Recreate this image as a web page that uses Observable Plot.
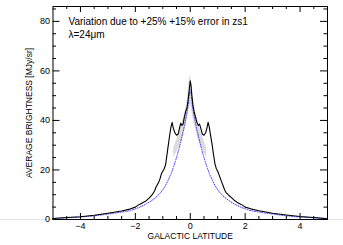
<!DOCTYPE html>
<html><head><meta charset="utf-8">
<script src="https://cdn.jsdelivr.net/npm/d3@7"></script>
<script src="https://cdn.jsdelivr.net/npm/@observablehq/plot@0.6"></script>
<style>body{margin:0;background:#fff}</style>
</head><body><div id="chart"></div>
<script>
const obsLat = [-5,-4.5,-4,-3.5,-3,-2.5,-2.2,-2,-1.9,-1.8,-1.7,-1.6,-1.5,-1.4,-1.3,-1.25,-1.2,-1.15,-1.1,-1.05,-1.0,-0.95,-0.9,-0.85,-0.8,-0.75,-0.7,-0.66,-0.62,-0.56,-0.5,-0.44,-0.39,-0.35,-0.3,-0.26,-0.22,-0.17,-0.12,-0.08,-0.04,0,0.03,0.06,0.1,0.15,0.2,0.25,0.3,0.34,0.38,0.44,0.5,0.56,0.61,0.65,0.69,0.74,0.8,0.85,0.9,0.95,1.0,1.05,1.1,1.15,1.2,1.25,1.3,1.4,1.5,1.6,1.7,1.8,1.9,2.0,2.2,2.5,3,3.5,4,4.5,5];
const obsVal = [0.4,0.8,1.1,1.7,2.5,3.4,4.2,5.0,5.8,6.4,7.0,7.6,8.6,9.8,11.5,13,14,15,16.5,18.5,19.5,20.5,22,26,30,34,37.5,39.2,37,35,34,34.5,37,38.8,38,38.5,41,43.5,45,48,52,56,54,50,46,43,41,39,38,38.5,37,34.5,34,35,37,39.2,37.5,34,30,26,22.5,20.5,19.5,18,16.5,15,13.5,12,11,9.8,8.8,7.8,7.0,6.4,5.8,5.0,4.3,3.5,2.5,1.8,1.2,0.8,0.3];
const modLat = [-5,-4.5,-4,-3.5,-3,-2.5,-2.2,-2,-1.8,-1.6,-1.4,-1.2,-1.0,-0.9,-0.8,-0.7,-0.6,-0.5,-0.4,-0.3,-0.2,-0.1,0,0.1,0.2,0.3,0.4,0.5,0.6,0.7,0.8,0.9,1.0,1.2,1.4,1.6,1.8,2,2.2,2.5,3,3.5,4,4.5,5];
const modVal = [0.4,0.7,1.0,1.5,2.2,3.0,3.6,4.3,5.2,6.3,7.7,9.5,12,13.8,16,18.5,21.5,25,29,33.5,38.5,44.5,52,44.5,38.5,33.5,29,25,21.5,18.5,16,13.8,12,9.5,7.7,6.3,5.2,4.3,3.6,3.0,2.2,1.5,1.0,0.7,0.4];
const bandLat = [-0.6,-0.5,-0.4,-0.3,-0.2,-0.1,0,0.1,0.2,0.3,0.4,0.5,0.6];
const bandLow = [25,27,29.5,32,36,41,46,41,36,32,29.5,27,25];
const bandHigh = [29,32,35,39,43,49,58,49,43,39,35,32,29];
const xMajor = [-4,-2,0,2,4];
const xMinor = [-4.5,-3.5,-3,-2.5,-1.5,-1,-0.5,0.5,1,1.5,2.5,3,3.5,4.5];
const yMajor = [0,20,40,60,80];
const yMinor = [5,10,15,25,30,35,45,50,55,65,70,75,85];
const notes = ["Variation due to +25% +15% error in zs1", "λ=24μm"];

const W = 343, H = 245, mL = 52.5, mR = 16, mT = 6, mB = 26;
const iW = W - mL - mR, iH = H - mT - mB;
const obs = obsLat.map((x, i) => ({x, y: obsVal[i]}));
const mod = modLat.map((x, i) => ({x, y: modVal[i]}));
const band = bandLat.map((x, i) => ({x, y1: bandLow[i], y2: bandHigh[i]}));
const font = "'Liberation Sans', Arial, sans-serif";

const chart = Plot.plot({
  width: W, height: H,
  marginLeft: mL, marginRight: mR, marginTop: mT, marginBottom: mB,
  style: {fontFamily: font, fontSize: "10px", color: "#000", background: "#fff"},
  x: {domain: [-5, 5]},
  y: {domain: [0, 86]},
  marks: [
    Plot.ruleY([0], {stroke: "#e4e4e4", insetLeft: -mL, insetRight: -mR}),
    Plot.areaY(band, {x: "x", y1: "y1", y2: "y2", fill: "#d0d0d0", fillOpacity: 0.75, curve: "monotone-x"}),
    Plot.line(mod, {x: "x", y: "y", stroke: "#3a3aff", strokeWidth: 1, strokeDasharray: "1,1.5", curve: "monotone-x"}),
    Plot.line(obs, {x: "x", y: "y", stroke: "#000", strokeWidth: 1.1}),
    Plot.frame({stroke: "#000"}),
    Plot.ruleX(xMajor, {x: d => d, insetTop: iH - 6, stroke: "#000"}),
    Plot.ruleX(xMajor, {x: d => d, insetBottom: iH - 6, stroke: "#000"}),
    Plot.ruleX(xMinor, {x: d => d, insetTop: iH - 3, stroke: "#000"}),
    Plot.ruleX(xMinor, {x: d => d, insetBottom: iH - 3, stroke: "#000"}),
    Plot.ruleY(yMajor, {y: d => d, insetRight: iW - 7, stroke: "#000"}),
    Plot.ruleY(yMajor, {y: d => d, insetLeft: iW - 7, stroke: "#000"}),
    Plot.ruleY(yMinor, {y: d => d, insetRight: iW - 3.5, stroke: "#000"}),
    Plot.ruleY(yMinor, {y: d => d, insetLeft: iW - 3.5, stroke: "#000"}),
    Plot.axisX(xMajor, {tickSize: 0, tickPadding: 3, tickFormat: d => d < 0 ? "−" + (-d) : String(d), fontSize: 9, label: null}),
    Plot.axisY(yMajor, {tickSize: 0, tickPadding: 3, fontSize: 9, label: null}),
    Plot.text(["GALACTIC LATITUDE"], {frameAnchor: "bottom", dy: 16.5, fontSize: 8.5, lineAnchor: "middle"}),
    Plot.text(["AVERAGE BRIGHTNESS [MJy/sr]"], {frameAnchor: "left", dx: -23.5, rotate: -90, textAnchor: "middle", fontSize: 8.5, lineAnchor: "middle"}),
    Plot.text([notes[0]], {frameAnchor: "top-left", dx: 15.5, dy: 15.5, textAnchor: "start", lineAnchor: "middle", fontSize: 10}),
    Plot.text([notes[1]], {frameAnchor: "top-left", dx: 15.5, dy: 28, textAnchor: "start", lineAnchor: "middle", fontSize: 10})
  ]
});
document.getElementById("chart").append(chart);
</script>
</body></html>
